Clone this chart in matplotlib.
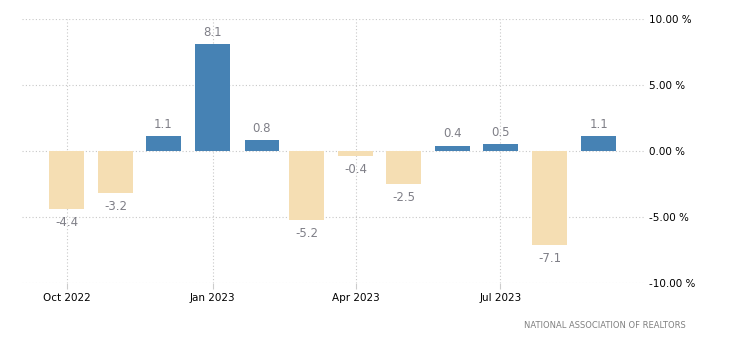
import numpy as np
import matplotlib.pyplot as plt
import matplotlib.dates as mdates
from datetime import datetime

months = ["2022-10", "2022-11", "2022-12", "2023-01", "2023-02", "2023-03",
          "2023-04", "2023-05", "2023-06", "2023-07", "2023-08", "2023-09"]
values = [-4.4, -3.2, 1.1, 8.1, 0.8, -5.2, -0.4, -2.5, 0.4, 0.5, -7.1, 1.1]
xticks = ["2022-10", "2023-01", "2023-04", "2023-07"]
xtick_labels = ["Oct 2022", "Jan 2023", "Apr 2023", "Jul 2023"]
yticks = [-10, -5, 0, 5, 10]

dates = [datetime.strptime(m, "%Y-%m") for m in months]
x = mdates.date2num(dates)
colors = ["#4682b4" if v >= 0 else "#f5deb3" for v in values]

fig = plt.figure(figsize=(7.3, 3.5), dpi=100)
ax = fig.add_axes([22 / 730, 1 - 283 / 350, (645 - 22) / 730, 264 / 350])

ax.bar(x, values, width=22, color=colors, zorder=2)

for xi, v in zip(x, values):
    if v >= 0:
        ax.annotate(f"{v:.1f}", (xi, v), xytext=(0, 4), textcoords="offset points",
                    ha="center", va="bottom", fontsize=8.5, color="#7f7f87")
    else:
        ax.annotate(f"{v:.1f}", (xi, v), xytext=(0, -5), textcoords="offset points",
                    ha="center", va="top", fontsize=8.5, color="#7f7f87")

ax.set_ylim(-10, 10)
ax.set_xlim(mdates.date2num(datetime(2022, 9, 3)), mdates.date2num(datetime(2023, 9, 30)))

ax.set_yticks(yticks)
ax.set_yticklabels([f"{t:.2f} %" for t in yticks])
ax.yaxis.tick_right()
ax.set_xticks([mdates.date2num(datetime.strptime(t, "%Y-%m")) for t in xticks])
ax.set_xticklabels(xtick_labels)
ax.tick_params(axis="y", length=0, labelsize=7.5, pad=3)
ax.tick_params(axis="x", length=4, color="#cccccc", labelsize=7.5, pad=3)

ax.grid(True, color="#c8c8c8", linestyle=(0, (1, 2)), linewidth=0.8, zorder=0)
for s in ax.spines.values():
    s.set_visible(False)

fig.text(686 / 730, 1 - 325 / 350, "NATIONAL ASSOCIATION OF REALTORS", ha="right", va="center",
         fontsize=6, color="#808080")

fig.savefig("out.png", dpi=100)
